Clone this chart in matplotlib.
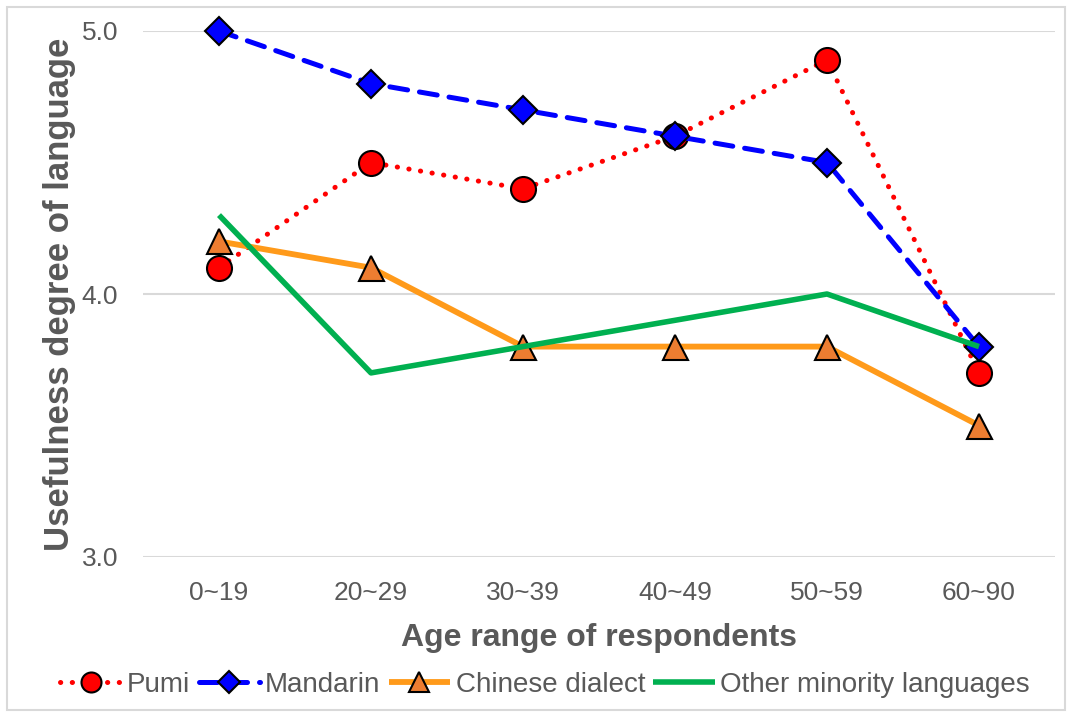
import matplotlib
matplotlib.use("Agg")
import matplotlib.pyplot as plt
from matplotlib.patches import Rectangle

categories = ["0~19", "20~29", "30~39", "40~49", "50~59", "60~90"]
pumi = [4.1, 4.5, 4.4, 4.6, 4.89, 3.7]
mandarin = [5.0, 4.8, 4.7, 4.6, 4.5, 3.8]
dialect = [4.2, 4.1, 3.8, 3.8, 3.8, 3.5]
other = [4.3, 3.7, 3.8, 3.9, 4.0, 3.8]
yticks = [3.0, 4.0, 5.0]

plt.rcParams['font.family'] = ['Liberation Sans', 'DejaVu Sans']
gray = '#595959'

fig = plt.figure(figsize=(10.72, 7.17), dpi=100)
ax = fig.add_axes([143/1072, 1-557/717, (1055-143)/1072, (557-31)/717])

x = list(range(len(categories)))
ax.plot(x, pumi, color='#FF0000', lw=3.6, linestyle=(0, (0.05, 2.3)), dash_capstyle='round',
        marker='o', markersize=18, markerfacecolor='#FF0000', markeredgecolor='black',
        markeredgewidth=1.5, label='Pumi', clip_on=False, zorder=3)
ax.plot(x, mandarin, color='#0000FF', lw=3.6, linestyle=(0, (3.6, 2.4)), dash_capstyle='round',
        marker='D', markersize=14, markerfacecolor='#0000FF', markeredgecolor='black',
        markeredgewidth=1.5, label='Mandarin', clip_on=False, zorder=4)
ax.plot(x, dialect, color='#FF9A1A', lw=4.2, solid_capstyle='butt',
        marker='^', markersize=18, markerfacecolor='#ED7D31', markeredgecolor='black',
        markeredgewidth=1.5, label='Chinese dialect', clip_on=False, zorder=5)
ax.plot(x, other, color='#00B050', lw=4.0, solid_capstyle='butt',
        label='Other minority languages', clip_on=False, zorder=6)

ax.set_xlim(-0.5, len(categories) - 0.5)
ax.set_ylim(3, 5)
ax.set_yticks(yticks)
ax.set_yticklabels([f"{v:.1f}" for v in yticks])
ax.set_xticks(x)
ax.set_xticklabels(categories)
ax.grid(axis='y', color='#D9D9D9', lw=1.5)
ax.set_axisbelow(True)
for s in ax.spines.values():
    s.set_visible(False)
ax.tick_params(length=0, labelsize=19, colors=gray)
ax.tick_params(axis='x', pad=17)
ax.tick_params(axis='y', pad=18)

ax.set_xlabel('Age range of respondents', fontsize=23, fontweight='bold', color=gray, labelpad=13)
ax.set_ylabel('Usefulness degree of language', fontsize=25, fontweight='bold', color=gray, labelpad=4)

fig.legend(loc='center', bbox_to_anchor=(545/1072, 1-685/717), ncol=4, frameon=False,
           fontsize=20, labelcolor=gray, handlelength=2.2, handletextpad=0.2,
           columnspacing=0.3, borderpad=0, markerscale=0.8)

fig.patches.append(Rectangle((7/1072, 7/717), 1-14/1072, 1-14/717, transform=fig.transFigure,
                             fill=False, edgecolor='#D9D9D9', lw=1.5))

fig.savefig('out.png', dpi=100)
